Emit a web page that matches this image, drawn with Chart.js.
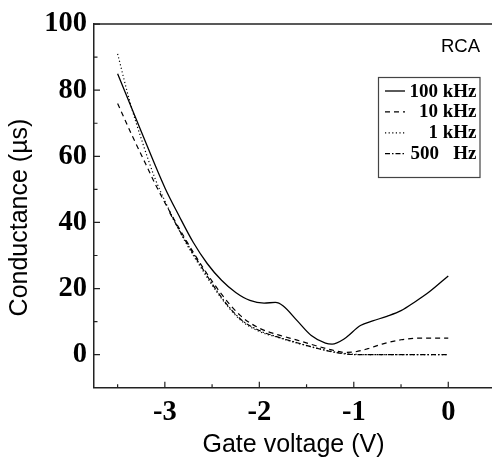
<!DOCTYPE html>
<html>
<head>
<meta charset="utf-8">
<script src="https://cdn.jsdelivr.net/npm/chart.js@4.4.1/dist/chart.umd.min.js"></script>
<style>
  html, body { margin: 0; padding: 0; background: #fff; overflow: hidden; }
  #wrap { position: absolute; left: 0; top: 0; width: 496px; height: 465px; }
</style>
</head>
<body>
<div id="wrap"><canvas id="chart" width="496" height="465"></canvas></div>
<script>
// series names (legend) and values
const seriesNames = ['100 kHz', '10 kHz', '1 kHz', '500   Hz'];

const v100k = [-3.5, -3.25, -3.0, -2.85, -2.7, -2.55, -2.4, -2.25, -2.1, -1.95, -1.83, -1.75, -1.6, -1.45, -1.3, -1.23, -1.1, -0.93, -0.8, -0.65, -0.5, -0.35, -0.2, 0];
const g100k = [85, 67.5, 50.5, 42, 34, 27.5, 22.5, 18.8, 16.4, 15.6, 15.8, 14.8, 10.3, 5.8, 3.5, 3.2, 4.8, 8.8, 10.2, 11.6, 13.3, 16, 19, 23.8];

const v10k = [-3.5, -3.35, -3.2, -3.1, -3.0, -2.8, -2.6, -2.4, -2.2, -2.0, -1.8, -1.6, -1.4, -1.2, -1.1, -1.0, -0.85, -0.7, -0.5, -0.3, 0];
const g10k = [76, 66.5, 57.5, 51.5, 46, 35.8, 26.5, 18.3, 11.8, 8.0, 6.0, 4.4, 2.7, 1.2, 0.7, 0.8, 1.8, 3.2, 4.5, 5.0, 5.0];

const v1k = [-3.5, -3.37, -3.23, -3.1, -3.0, -2.8, -2.6, -2.4, -2.2, -2.0, -1.8, -1.6, -1.4, -1.2, -1.0, -0.8, 0];
const g1k = [91, 76.5, 63.6, 53, 46.5, 35, 25.5, 17, 10.5, 7, 5.2, 3.5, 2, 0.8, 0.1, 0, 0];

const v500 = [-2.95, -2.8, -2.6, -2.4, -2.2, -2.0, -1.8, -1.6, -1.4, -1.2, -1.05, -0.9, 0];
const g500 = [43, 35.3, 26, 17.3, 10.8, 7.3, 5.3, 3.6, 2.0, 0.7, 0.1, 0, 0];

// axis ticks
const xTicks = [-3, -2, -1, 0];
const xMinor = [-3.5, -2.5, -1.5, -0.5];
const yTicks = [0, 20, 40, 60, 80, 100];
const yMinor = [10, 30, 50, 70, 90];

const xTitle = 'Gate voltage (V)';
const yTitle = 'Conductance (\u00b5s)';
const sampleLabel = 'RCA';

const SERIF = '"Liberation Serif", "Times New Roman", serif';
const SANS = '"Liberation Sans", Arial, sans-serif';

function zip(xs, ys) {
    return xs.map((x, i) => ({ x: x, y: ys[i] }));
}

function lineSet(label, xs, ys, dash, width) {
    return {
        label: label,
        data: zip(xs, ys),
        showLine: true,
        borderColor: '#000',
        borderWidth: width,
        borderDash: dash,
        pointRadius: 0,
        cubicInterpolationMode: 'monotone',
        fill: false
    };
}

// inward tick marks, top frame line, titles, RCA tag and boxed legend
const decorPlugin = {
    id: 'decor',
    afterDraw(chart) {
        const ctx = chart.ctx;
        const area = chart.chartArea;
        const xs = chart.scales.x;
        const ys = chart.scales.y;
        ctx.save();

        // top frame line
        ctx.strokeStyle = '#222';
        ctx.lineWidth = 1.5;
        ctx.beginPath();
        ctx.moveTo(area.left, area.top);
        ctx.lineTo(chart.width, area.top);
        ctx.stroke();

        // ticks
        ctx.lineWidth = 1.2;
        ctx.beginPath();
        xTicks.forEach(v => {
            const p = xs.getPixelForValue(v);
            ctx.moveTo(p, area.bottom); ctx.lineTo(p, area.bottom - 6);
        });
        xMinor.forEach(v => {
            const p = xs.getPixelForValue(v);
            ctx.moveTo(p, area.bottom); ctx.lineTo(p, area.bottom - 3.5);
        });
        yTicks.forEach(v => {
            const p = ys.getPixelForValue(v);
            ctx.moveTo(area.left, p); ctx.lineTo(area.left + 6, p);
        });
        yMinor.forEach(v => {
            const p = ys.getPixelForValue(v);
            ctx.moveTo(area.left, p); ctx.lineTo(area.left + 3.5, p);
        });
        ctx.stroke();

        // axis titles
        ctx.fillStyle = '#000';
        ctx.font = '25px ' + SANS;
        ctx.textAlign = 'center';
        ctx.textBaseline = 'alphabetic';
        ctx.fillText(xTitle, 293.5, 452);
        ctx.save();
        ctx.translate(27, 217.5);
        ctx.rotate(-Math.PI / 2);
        ctx.fillText(yTitle, 0, 0);
        ctx.restore();

        // sample tag
        ctx.font = '18.5px ' + SANS;
        ctx.textAlign = 'right';
        ctx.fillText(sampleLabel, 480, 51.5);

        // legend box
        ctx.strokeStyle = '#444';
        ctx.lineWidth = 1.2;
        ctx.strokeRect(378.5, 77.5, 101.5, 100);
        ctx.font = 'bold 19px ' + SERIF;
        chart.data.datasets.forEach((ds, i) => {
            const base = 96.5 + i * 20.9;
            ctx.fillStyle = '#000';
            ctx.textAlign = 'right';
            ctx.fillText(ds.label, 476.5, base);
            ctx.strokeStyle = '#000';
            ctx.lineWidth = ds.borderWidth;
            ctx.setLineDash(ds.borderDash);
            ctx.beginPath();
            ctx.moveTo(385, base - 5.5);
            ctx.lineTo(405, base - 5.5);
            ctx.stroke();
            ctx.setLineDash([]);
        });
        ctx.restore();
    }
};

const ctx = document.getElementById('chart').getContext('2d');
new Chart(ctx, {
    type: 'scatter',
    data: {
        datasets: [
            lineSet(seriesNames[0], v100k, g100k, [], 1.3),
            lineSet(seriesNames[1], v10k, g10k, [5, 4], 1.2),
            lineSet(seriesNames[2], v1k, g1k, [1.2, 2.4], 1.2),
            lineSet(seriesNames[3], v500, g500, [5, 2, 1.5, 2], 1.2)
        ]
    },
    options: {
        responsive: false,
        animation: false,
        devicePixelRatio: 1,
        layout: { padding: { left: 0, right: 0.5, top: 19.5, bottom: 0 } },
        plugins: {
            legend: { display: false },
            tooltip: { enabled: false }
        },
        scales: {
            x: {
                type: 'linear',
                min: -3.75,
                max: 0.5,
                afterBuildTicks: s => { s.ticks = xTicks.map(v => ({ value: v })); },
                afterFit: s => { s.height = 77.3; },
                grid: { display: false, drawTicks: false },
                border: { display: true, color: '#222', width: 1.5 },
                ticks: {
                    padding: 7.5,
                    color: '#000',
                    autoSkip: false,
                    maxRotation: 0,
                    font: { family: SERIF, size: 28.5, weight: 'bold', lineHeight: 1.2 },
                    callback: v => String(v)
                }
            },
            y: {
                type: 'linear',
                min: -10,
                max: 100,
                afterBuildTicks: s => { s.ticks = yTicks.map(v => ({ value: v })); },
                afterFit: s => { s.width = 94; },
                grid: { display: false, drawTicks: false },
                border: { display: true, color: '#222', width: 1.5 },
                ticks: {
                    padding: 7,
                    color: '#000',
                    font: { family: SERIF, size: 28.5, weight: 'bold', lineHeight: 1.2 },
                    callback: v => String(v)
                }
            }
        }
    },
    plugins: [decorPlugin]
});
</script>
</body>
</html>
